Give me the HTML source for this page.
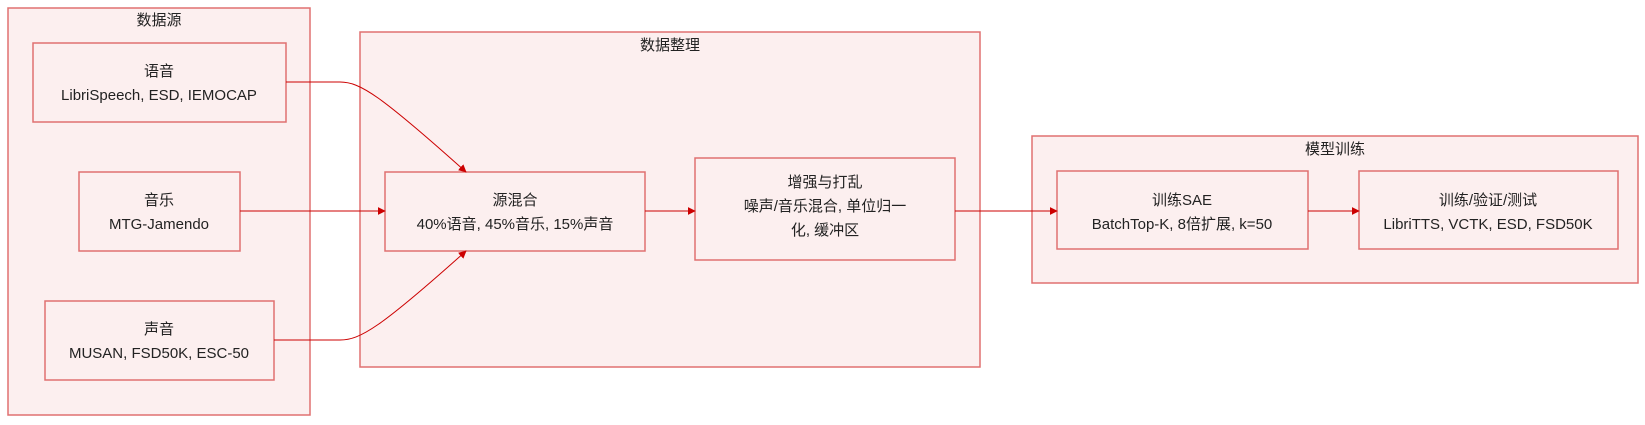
<!DOCTYPE html>
<html><head><meta charset="utf-8"><style>
html,body{margin:0;padding:0;background:#fff;}
svg text{font-family:"Liberation Sans","Noto Sans CJK SC",sans-serif;font-size:15px;fill:#222;text-anchor:middle;}
</style></head><body>
<svg width="1645" height="420" xmlns="http://www.w3.org/2000/svg">
<defs><marker id="a" viewBox="0 0 10 10" refX="9" refY="5" markerWidth="8" markerHeight="8" orient="auto"><path d="M0,0L10,5L0,10z" fill="#cc0000"/></marker></defs>
<g fill="#fcefef" stroke="#e07070" stroke-width="1.5">
<rect x="8" y="8" width="302" height="407"/>
<rect x="360" y="32" width="620" height="335"/>
<rect x="1032" y="136" width="606" height="147"/>
<rect x="33" y="43" width="253" height="79"/>
<rect x="79" y="172" width="161" height="79"/>
<rect x="45" y="301" width="229" height="79"/>
<rect x="385" y="172" width="260" height="79"/>
<rect x="695" y="158" width="260" height="102"/>
<rect x="1057" y="171" width="251" height="78"/>
<rect x="1359" y="171" width="259" height="78"/>
</g>
<g fill="none" stroke="#cc0000" stroke-width="1" marker-end="url(#a)">
<path d="M286,82 L340,82 C360,82 380,95 466,172"/>
<path d="M274,340 L340,340 C360,340 380,328 466,251"/>
<path d="M240,211 L385,211"/>
<path d="M645,211 L695,211"/>
<path d="M955,211 L1057,211"/>
<path d="M1308,211 L1359,211"/>
</g>
<text x="159" y="25">数据源</text>
<text x="670" y="50">数据整理</text>
<text x="1335" y="154">模型训练</text>
<text x="159" y="76">语音</text><text x="159" y="100">LibriSpeech, ESD, IEMOCAP</text>
<text x="159" y="205">音乐</text><text x="159" y="229">MTG-Jamendo</text>
<text x="159" y="334">声音</text><text x="159" y="358">MUSAN, FSD50K, ESC-50</text>
<text x="515" y="205">源混合</text><text x="515" y="229">40%语音, 45%音乐, 15%声音</text>
<text x="825" y="187">增强与打乱</text><text x="825" y="211">噪声/音乐混合, 单位归一</text><text x="825" y="235">化, 缓冲区</text>
<text x="1182" y="205">训练SAE</text><text x="1182" y="229">BatchTop-K, 8倍扩展, k=50</text>
<text x="1488" y="205">训练/验证/测试</text><text x="1488" y="229">LibriTTS, VCTK, ESD, FSD50K</text>
</svg>
</body></html>
